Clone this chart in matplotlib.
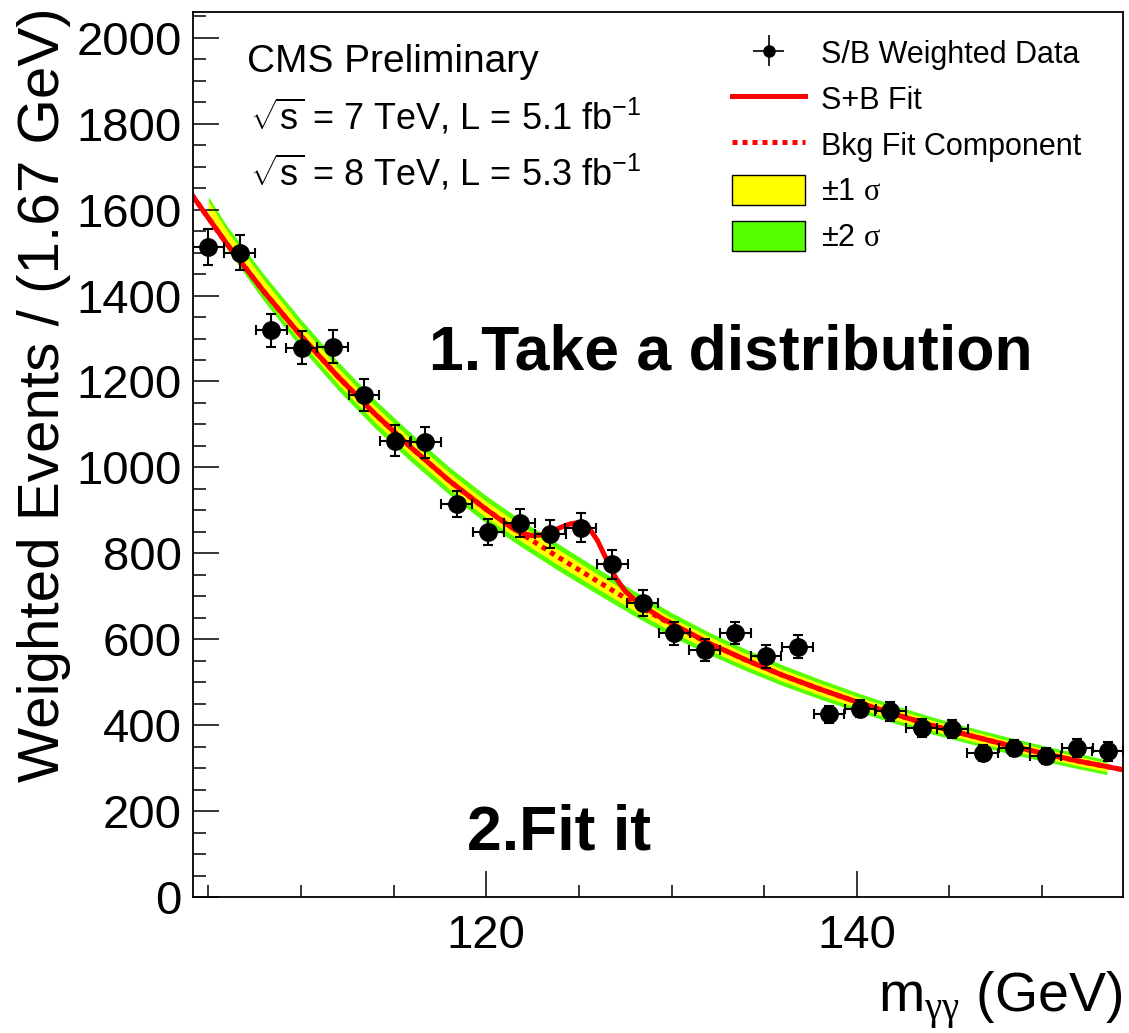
import numpy as np
import matplotlib.pyplot as plt
from matplotlib.ticker import MultipleLocator
from matplotlib.lines import Line2D
from matplotlib.patches import Patch

plt.rcParams['font.family'] = 'Liberation Sans'
plt.rcParams['mathtext.fontset'] = 'custom'
plt.rcParams['mathtext.rm'] = 'Liberation Sans'
plt.rcParams['mathtext.sf'] = 'Liberation Serif'
plt.rcParams['mathtext.default'] = 'rm'

# data points (S/B weighted)
mass = [105.0, 106.7, 108.4, 110.05, 111.7, 113.4, 115.1, 116.7, 118.4, 120.1,
        121.8, 123.45, 125.1, 126.8, 128.45, 130.15, 131.8, 133.45, 135.1, 136.8,
        138.5, 140.2, 141.8, 143.5, 145.15, 146.8, 148.5, 150.2, 151.9, 153.55]
events = [1513, 1500, 1319, 1279, 1281, 1168, 1062, 1058, 915, 849,
          870, 845, 860, 774, 684, 614, 575, 614, 560, 583,
          425, 438, 432, 393, 392, 335, 347, 328, 347, 339]
events_err = [41, 41, 39, 39, 39, 37, 36, 36, 30, 30,
              32, 32, 33, 34, 30, 27, 26, 26, 26, 27,
              20, 20, 22, 21, 21, 19, 19, 19, 20, 22]
bin_half = 0.835

# background fit component
bkg_x = [104.1, 106, 108, 110, 112, 114, 116, 118, 120, 122, 124, 126, 128, 130,
         132, 134, 136, 138, 140, 142, 144, 146, 148, 150, 152, 154.4]
bkg_y = [1635, 1520, 1409, 1306, 1211, 1124, 1044, 969, 902, 843, 788, 735, 683, 634,
         591, 552, 516, 484, 454, 426, 400, 377, 355, 335, 316, 296]

# signal + background fit
sb_x = [104.1, 106, 108, 110, 112, 114, 116, 118, 120, 121.0, 121.5, 122.0, 122.5,
        123.0, 123.5, 124.0, 124.5, 125.0, 125.5, 126.0, 126.5, 127.0, 127.5, 128.0,
        128.5, 129.0, 129.5, 130.0, 132, 134, 136, 138, 140, 142, 144, 146, 148,
        150, 152, 154.4]
sb_y = [1635, 1520, 1409, 1306, 1211, 1124, 1044, 969, 902, 871, 856, 846, 841,
        843, 850, 860, 868, 872, 862, 830, 785, 742, 712, 692,
        676, 662, 648, 637, 591, 552, 516, 484, 454, 426, 400, 377, 355,
        335, 316, 296]

# uncertainty bands
band_x = [105, 106, 108, 110, 112, 114, 116, 118, 120, 122, 124, 126, 128, 130,
          132, 134, 136, 138, 140, 142, 144, 146, 148, 150, 152, 153.5]
band_mid = [1605, 1535, 1418, 1311, 1213, 1124, 1044, 969, 902, 843, 788, 735, 683, 634,
            591, 552, 516, 484, 454, 426, 400, 377, 355, 335, 316, 302]
err1 = [15, 16, 18, 19, 19, 19, 19, 19, 19, 18, 18, 17, 17, 16,
        16, 15, 14, 14, 13, 13, 12, 12, 11, 11, 11, 10]
err2 = [25, 27, 31, 33, 33, 33, 33, 32, 32, 31, 31, 30, 29, 28,
        26, 25, 24, 23, 22, 21, 20, 19, 19, 18, 18, 17]

W, H = 1129, 1033
fig = plt.figure(figsize=(W / 100, H / 100), dpi=100)
ax = fig.add_axes([193 / W, 1 - 897 / H, (1123 - 193) / W, (897 - 12) / H])

bx = np.array(band_x)
bm = np.array(band_mid)
e1 = np.array(err1)
e2 = np.array(err2)
ax.fill_between(bx, bm - e2, bm + e2, color='#55ff00', lw=0)
ax.fill_between(bx, bm - e1, bm + e1, color='#ffff00', lw=0)
ax.plot(bkg_x, bkg_y, color='red', lw=3.6, ls=(0, (1, 1)))
ax.plot(sb_x, sb_y, color='red', lw=3.6, solid_joinstyle='round')
ax.errorbar(mass, events, yerr=events_err, xerr=bin_half, fmt='o', color='black',
            markersize=12.5, elinewidth=1.5, capsize=3.5, capthick=1.5)

ax.set_xlim(104.17, 154.37)
ax.set_ylim(0, 2060)
ax.set_yticks(range(0, 2001, 200))
ax.yaxis.set_minor_locator(MultipleLocator(50))
ax.set_xticks([120, 140])
ax.xaxis.set_minor_locator(MultipleLocator(5))
ax.tick_params(which='both', direction='in', width=1.1, labelsize=34)
ax.tick_params(which='major', length=19)
ax.tick_params(which='minor', length=9)
ax.tick_params(axis='x', pad=12)
ax.tick_params(axis='y', pad=8)
for s in ax.spines.values():
    s.set_linewidth(1.3)

fig.text(44 / W, 1 - 395 / H, 'Weighted Events / (1.67 GeV)', rotation=90,
         ha='center', va='center', fontsize=42)
fig.text(1122 / W, 1 - 1012 / H, r'm$_{\mathsf{γγ}}$ (GeV)', ha='right',
         va='baseline', fontsize=40)

fig.text(247 / W, 1 - 72 / H, 'CMS Preliminary', fontsize=28, va='baseline')
fig.text(250 / W, 1 - 130 / H, r'$\sqrt{\mathrm{s}}$ = 7 TeV, L = 5.1 fb$^{-1}$',
         fontsize=26, va='baseline')
fig.text(250 / W, 1 - 185 / H, r'$\sqrt{\mathrm{s}}$ = 8 TeV, L = 5.3 fb$^{-1}$',
         fontsize=26, va='baseline')

fig.text(429 / W, 1 - 370 / H, '1.Take a distribution', fontsize=45,
         fontweight='bold', va='baseline')
fig.text(467 / W, 1 - 850 / H, '2.Fit it', fontsize=45,
         fontweight='bold', va='baseline')

h_data = ax.errorbar([], [], yerr=[], xerr=[], fmt='o', color='black',
                     markersize=8, elinewidth=1.2, capsize=0)
h_sb = Line2D([], [], color='red', lw=3.6)
h_bkg = Line2D([], [], color='red', lw=3.6, ls=(0, (1, 1)))
h_1s = Patch(facecolor='#ffff00', edgecolor='black', lw=1)
h_2s = Patch(facecolor='#55ff00', edgecolor='black', lw=1)
fig.legend([h_data, h_sb, h_bkg, h_1s, h_2s],
           ['S/B Weighted Data', 'S+B Fit', 'Bkg Fit Component',
            r'±1 $\mathsf{σ}$', r'±2 $\mathsf{σ}$'],
           loc='upper left', bbox_to_anchor=(732 / W, 1 - 38 / H),
           frameon=False, fontsize=22, handlelength=2.4, handleheight=1.1,
           handletextpad=0.5, labelspacing=0.45, borderpad=0, borderaxespad=0)

fig.savefig('out.png', dpi=100)
